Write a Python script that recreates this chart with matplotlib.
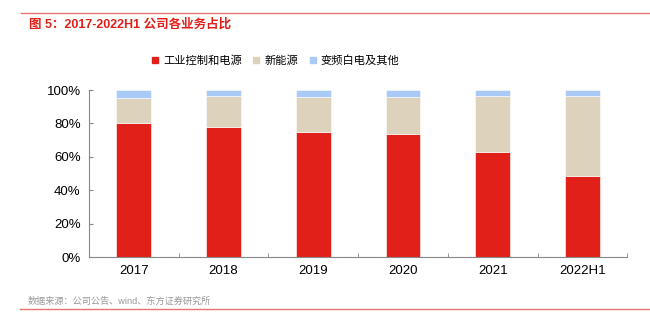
import numpy as np
import matplotlib.pyplot as plt
from matplotlib.lines import Line2D

plt.rcParams['font.family'] = ['Liberation Sans', 'Noto Sans CJK SC']

# 各业务占比（%）
years = ["2017", "2018", "2019", "2020", "2021", "2022H1"]
industrial = [80.4, 78.0, 74.6, 73.5, 62.7, 48.7]
new_energy = [15.0, 18.6, 21.4, 22.5, 33.9, 47.9]
others = [4.6, 3.4, 4.0, 4.0, 3.4, 3.4]
series_names = ["工业控制和电源", "新能源", "变频白电及其他"]
colors = ["#E2201A", "#DDD3BC", "#A9C9F7"]

fig = plt.figure(figsize=(6.5, 3.25), dpi=100)
ax = fig.add_axes([0.137, 0.209, 0.828, 0.514])

x = np.arange(len(years))
w = 0.39
bottom = np.zeros(len(years))
for vals, c in zip([industrial, new_energy, others], colors):
    ax.bar(x, vals, w, bottom=bottom, color=c, edgecolor="white", linewidth=0.4)
    bottom += np.array(vals)

ax.set_xlim(-0.5, len(years) - 0.5)
ax.set_ylim(0, 100)
ax.set_yticks(np.arange(0, 101, 20))
ax.set_yticklabels([f"{v}%" for v in range(0, 101, 20)])
ax.set_xticks(x)
ax.set_xticklabels(years)
ax.set_xticks(np.arange(-0.5, len(years)), minor=True)
ax.tick_params(axis="x", which="major", length=0, labelsize=9.5, pad=6)
ax.tick_params(axis="x", which="minor", direction="in", length=3, color="#888888")
ax.tick_params(axis="y", length=3, color="#888888", labelsize=9.5, direction="in", pad=6)
for s in ["top", "right"]:
    ax.spines[s].set_visible(False)
for s in ["left", "bottom"]:
    ax.spines[s].set_color("#888888")
    ax.spines[s].set_linewidth(0.8)

# 图例
handles = [Line2D([], [], marker="s", linestyle="", markersize=5, color=c) for c in colors]
fig.legend(handles, series_names, loc="center", bbox_to_anchor=(0.423, 0.815), ncol=3,
           frameon=False, fontsize=8.1, handlelength=0.8, handletextpad=0.3,
           columnspacing=0.9)

# 标题与来源
fig.add_artist(Line2D([0.032, 1.0], [0.96, 0.96], color="#E8736E", linewidth=1))
fig.text(0.044, 0.923, "图 5：2017-2022H1 公司各业务占比", color="#E2201A",
         fontsize=9.0, fontweight="bold", va="center")
fig.text(0.043, 0.072, "数据来源：公司公告、wind、东方证券研究所", color="#999999",
         fontsize=6.6, va="center")
fig.add_artist(Line2D([0.03, 1.0], [0.05, 0.05], color="#E8736E", linewidth=1))

fig.savefig("out.png", dpi=100)
